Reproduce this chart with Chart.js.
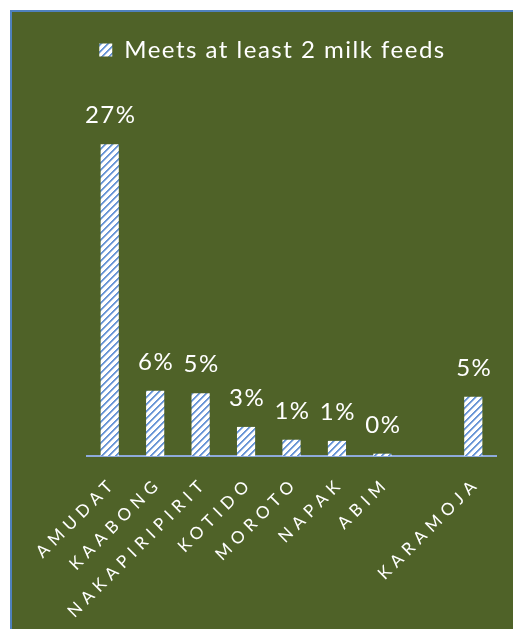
<!DOCTYPE html>
<html>
<head>
<meta charset="utf-8">
<script src="https://cdn.jsdelivr.net/npm/chart.js@4/dist/chart.umd.min.js"></script>
<style>
  html, body { margin: 0; padding: 0; background: #ffffff; }
  #frame {
    position: absolute; left: 10px; top: 10px;
    width: 501px; height: 617px;
    border-left: 2px solid #4F81BD; border-top: 2px solid #4F81BD;
    background: #4F6228;
  }
  #frame canvas { display: block; }
</style>
</head>
<body>
<div id="frame"><canvas id="chart" width="501" height="617"></canvas></div>
<script>
// Share of children meeting at least 2 milk feeds, by district
const categories = ['AMUDAT', 'KAABONG', 'NAKAPIRIPIRIT', 'KOTIDO', 'MOROTO', 'NAPAK', 'ABIM', '', 'KARAMOJA'];
const milkFeeds = [26.8, 5.6, 5.4, 2.5, 1.4, 1.3, 0.2, null, 5.1];
const seriesName = 'Meets at least 2 milk feeds';

const FONT = 'Lato';

// White tile with blue upward diagonal stripes
function hatchPattern() {
  const n = 7;
  const c = document.createElement('canvas');
  c.width = n; c.height = n;
  const g = c.getContext('2d');
  g.fillStyle = '#ffffff';
  g.fillRect(0, 0, n, n);
  for (let x = 0; x < n; x++) {
    for (let y = 0; y < n; y++) {
      const k = (x + y) % n;
      if (k === 0 || k === 1) { g.fillStyle = '#6A96D6'; g.fillRect(x, y, 1, 1); }
      else if (k === 2) { g.fillStyle = '#B4CAEA'; g.fillRect(x, y, 1, 1); }
    }
  }
  return g.createPattern(c, 'repeat');
}

const ctx = document.getElementById('chart').getContext('2d');
const hatch = hatchPattern();

// Wider letter spacing for chart text, extra wide for the category labels
const spacing = {
  id: 'spacing',
  beforeUpdate(chart) { chart.ctx.letterSpacing = '1.5px'; },
  beforeDraw(chart) { chart.ctx.letterSpacing = '1.5px'; },
  afterUpdate(chart) {
    const s = chart.scales.x;
    if (s && !s._spaced) {
      const orig = s.drawLabels;
      s.drawLabels = function (area) {
        const c = this.ctx;
        c.save();
        c.letterSpacing = '5.5px';
        orig.call(this, area);
        c.restore();
      };
      s._spaced = true;
    }
  }
};

// Percentage labels above each bar
const valueLabels = {
  id: 'valueLabels',
  afterDatasetsDraw(chart) {
    const c = chart.ctx;
    const meta = chart.getDatasetMeta(0);
    c.save();
    c.font = '24px ' + FONT;
    c.fillStyle = '#ffffff';
    c.textAlign = 'center';
    c.textBaseline = 'alphabetic';
    c.letterSpacing = '1.5px';
    meta.data.forEach((bar, i) => {
      const v = milkFeeds[i];
      if (v === null || v === undefined) return;
      c.fillText(Math.round(v) + '%', bar.x + 1, bar.y - 21);
    });
    c.restore();
  }
};

new Chart(ctx, {
  type: 'bar',
  data: {
    labels: categories,
    datasets: [{
      label: seriesName,
      data: milkFeeds,
      backgroundColor: hatch,
      borderWidth: 0,
      categoryPercentage: 1,
      barPercentage: 0.4
    }]
  },
  options: {
    responsive: false,
    animation: false,
    layout: { padding: { top: 16, left: 37, right: 17, bottom: 0 } },
    plugins: {
      legend: {
        position: 'top',
        labels: {
          color: '#ffffff',
          font: { family: FONT, size: 24 },
          boxWidth: 13,
          boxHeight: 13,
          padding: 10
        }
      },
      tooltip: { enabled: false }
    },
    scales: {
      x: {
        grid: { display: false, drawTicks: false },
        border: { display: true, color: '#8EAADB', width: 2 },
        ticks: {
          color: '#ffffff',
          font: { family: FONT, size: 17 },
          minRotation: 45,
          maxRotation: 45,
          autoSkip: false,
          padding: 17,
          labelOffset: 4
        },
        afterFit(scale) { scale.height = 173; }
      },
      y: {
        display: true,
        min: 0, max: 33,
        grid: { display: false, drawTicks: false },
        border: { display: false },
        ticks: { display: false },
        afterFit(scale) { scale.width = 38; }
      }
    }
  },
  plugins: [spacing, valueLabels]
});
</script>
</body>
</html>
